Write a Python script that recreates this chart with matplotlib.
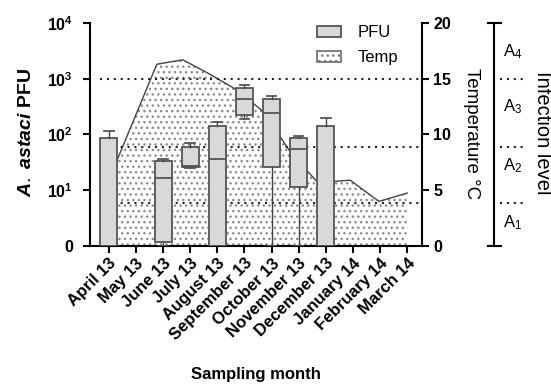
import numpy as np
import matplotlib
matplotlib.use("Agg")
import matplotlib.pyplot as plt
from matplotlib.patches import Patch

plt.rcParams["font.family"] = "Liberation Sans"
plt.rcParams["mathtext.fontset"] = "custom"
plt.rcParams["mathtext.rm"] = "Liberation Sans"
plt.rcParams["mathtext.it"] = "Liberation Sans:italic:bold"
plt.rcParams["mathtext.bf"] = "Liberation Sans:bold"
plt.rcParams["hatch.linewidth"] = 1.0

months = ["April 13", "May 13", "June 13", "July 13", "August 13", "September 13",
          "October 13", "November 13", "December 13", "January 14", "February 14", "March 14"]

# PFU box stats, in decades (0 = "0", 1 = 10^1, ...)
pfu_month = [0, 2, 3, 4, 5, 6, 7, 8]
pfu_min = [0.0, 0.0, 1.40, 0.0, 2.28, 0.0, 0.0, 0.0]
pfu_q1 = [0.0, 0.07, 1.42, 0.0, 2.35, 1.42, 1.06, 0.0]
pfu_med = [0.0, 1.22, 1.44, 1.56, 2.64, 2.39, 1.74, 0.0]
pfu_q3 = [1.94, 1.52, 1.78, 2.15, 2.83, 2.64, 1.94, 2.15]
pfu_max = [2.06, 1.56, 1.85, 2.22, 2.89, 2.69, 1.97, 2.30]

# water temperature (deg C) and where it sits along the month axis
temp_pos = [0, 1.77, 2.73, 3.73, 4.72, 5.72, 6.7, 7.7, 8.9, 9.96, 11.0]
temp_c = [5.9, 16.3, 16.7, 15.4, 14.0, 12.0, 8.4, 5.7, 5.9, 4.0, 4.75]

# infection level thresholds (PFU)
levels = [6, 60, 1000]
level_names = ["A$_1$", "A$_2$", "A$_3$", "A$_4$"]

fig = plt.figure(figsize=(5.51, 3.89), dpi=100)
ax = fig.add_axes([0.163, 0.3676, 0.603, 0.5733])
ax2 = ax.twinx()

x = np.arange(len(months))

# temperature area: 5 degC per decade on the left axis
t = np.array(temp_c) / 5.0
ax.fill_between(temp_pos, 0, t, facecolor="white", edgecolor="#8c8c8c",
                hatch="...", linewidth=0, zorder=1)
ax.plot(temp_pos, t, color="#444444", lw=1.0, zorder=2)

for lv in levels:
    ax.axhline(np.log10(lv), xmin=0.03, xmax=1, color="#222222", lw=1.5,
               ls=(0, (1, 2.3)), zorder=3)

stats = []
for i in range(len(pfu_month)):
    stats.append({"whislo": pfu_min[i], "q1": pfu_q1[i], "med": pfu_med[i],
                  "q3": pfu_q3[i], "whishi": pfu_max[i]})
ax.bxp(stats, positions=pfu_month, widths=0.63, capwidths=0.35, patch_artist=True,
       showfliers=False, manage_ticks=False,
       boxprops=dict(facecolor="#d9d9d9", edgecolor="#555555", lw=1.3),
       medianprops=dict(color="#555555", lw=1.3),
       whiskerprops=dict(color="#444444", lw=1.0),
       capprops=dict(color="#555555", lw=1.3), zorder=4)

ax.set_xlim(-0.7, 11.55)
ax.set_ylim(0, 4)
ax.set_yticks([0, 1, 2, 3, 4])
ax.set_yticklabels(["0", r"$\mathbf{10^1}$", r"$\mathbf{10^2}$", r"$\mathbf{10^3}$", r"$\mathbf{10^4}$"],
                   fontsize=11.5, fontweight="bold")
ax.set_xticks(x)
ax.set_xticklabels(months, rotation=45, ha="right", va="top", rotation_mode="anchor",
                   fontsize=12, fontweight="bold")
ax.tick_params(axis="y", length=5, width=1.5, pad=7)
ax.tick_params(axis="x", length=5, width=1.5, pad=2)

ax2.set_ylim(0, 20)
ax2.set_yticks([0, 5, 10, 15, 20])
ax2.set_yticklabels(["0", "5", "10", "15", "20"], fontsize=11.5, fontweight="bold")
ax2.tick_params(axis="y", length=5, width=1.5, pad=3)

for a in (ax, ax2):
    a.spines["top"].set_visible(False)
    for s in a.spines.values():
        s.set_linewidth(1.5)
ax.spines["right"].set_visible(False)
ax2.spines["left"].set_visible(False)
ax2.spines["bottom"].set_visible(False)

ax.text(-0.192, 0.51, r"$\mathit{A.}$ $\mathit{astaci}$ PFU", transform=ax.transAxes, rotation=90,
        ha="center", va="center", fontsize=14, fontweight="bold")
ax.text(0.50, -0.578, "Sampling month", transform=ax.transAxes,
        ha="center", va="center", fontsize=12, fontweight="bold")
ax.text(1.150, 0.505, "Temperature °C", transform=ax.transAxes, rotation=270,
        ha="center", va="center", fontsize=13.5)
ax.text(1.361, 0.51, "Infection level", transform=ax.transAxes, rotation=270,
        ha="center", va="center", fontsize=14.5)

# infection level scale
lx = 1.217
ax.plot([lx, lx], [0, 1], transform=ax.transAxes, color="black", lw=1.5, clip_on=False)
for yy in (0, 1):
    ax.plot([lx - 0.018, lx + 0.021], [yy, yy], transform=ax.transAxes, color="black",
            lw=1.5, clip_on=False)
for lv in levels:
    yy = np.log10(lv) / 4
    ax.plot([lx + 0.018, lx + 0.086], [yy, yy], transform=ax.transAxes, color="#222222",
            lw=1.5, ls=(0, (1, 2.3)), clip_on=False)
for name, yy in zip(level_names, [0.103, 0.36, 0.623, 0.87]):
    ax.text(lx + 0.056, yy, name, transform=ax.transAxes, ha="center", va="center",
            fontsize=12)

handles = [Patch(facecolor="#d9d9d9", edgecolor="#555555", lw=1.3, label="PFU"),
           Patch(facecolor="white", edgecolor="#777777", hatch="...", lw=1.3, label="Temp")]
ax.legend(handles=handles, loc="upper left", bbox_to_anchor=(0.684, 0.99), frameon=False,
          fontsize=12, borderpad=0, borderaxespad=0, handlelength=1.45,
          handleheight=0.65, handletextpad=1.0, labelspacing=0.6)

plt.savefig("out.png", dpi=100)
